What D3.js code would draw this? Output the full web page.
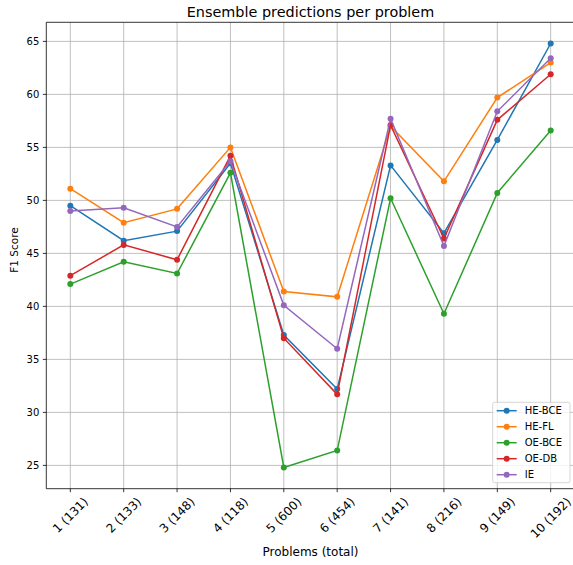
<!DOCTYPE html>
<html>
<head>
<meta charset="utf-8">
<script src="https://cdn.jsdelivr.net/npm/d3@7"></script>
<style>
  body { margin: 0; background: #fff; }
  text { font-family: "DejaVu Sans", sans-serif; fill: #000; }
</style>
</head>
<body>
<div id="chart"></div>
<script>
// problems and their totals
var problems = [1, 2, 3, 4, 5, 6, 7, 8, 9, 10];
var tickLabels = ["1 (131)", "2 (133)", "3 (148)", "4 (118)", "5 (600)",
                  "6 (454)", "7 (141)", "8 (216)", "9 (149)", "10 (192)"];

var heBce = [49.5, 46.2, 47.1, 53.5, 37.3, 32.2, 53.3, 46.9, 55.7, 64.8];
var heFl  = [51.1, 47.9, 49.2, 55.0, 41.4, 40.9, 57.0, 51.8, 59.7, 63.0];
var oeBce = [42.1, 44.2, 43.1, 52.6, 24.8, 26.4, 50.2, 39.3, 50.7, 56.6];
var oeDb  = [42.9, 45.8, 44.4, 54.2, 37.0, 31.7, 57.1, 46.4, 57.6, 61.9];
var ie    = [49.0, 49.3, 47.5, 53.7, 40.1, 36.0, 57.7, 45.7, 58.4, 63.4];

var seriesNames = ["HE-BCE", "HE-FL", "OE-BCE", "OE-DB", "IE"];
var seriesValues = [heBce, heFl, oeBce, oeDb, ie];
var yTicks = [25, 30, 35, 40, 45, 50, 55, 60, 65];

var width = 573, height = 565,
    margin = {top: 22.3, right: -1.7, bottom: 76.3, left: 46.3};

var color = d3.scaleOrdinal()
  .domain(seriesNames)
  .range(["#1f77b4", "#ff7f0e", "#2ca02c", "#d62728", "#9467bd"]);

var svg = d3.select("#chart").append("svg")
  .attr("width", width)
  .attr("height", height);

var x = d3.scaleLinear()
  .domain([0.55, 10.45])
  .range([margin.left, width - margin.right]);

var y = d3.scaleLinear()
  .domain([22.8, 66.8])
  .range([height - margin.bottom, margin.top]);

// grid
svg.append("g").selectAll("line.vg")
  .data(problems).enter().append("line")
  .attr("x1", d => x(d)).attr("x2", d => x(d))
  .attr("y1", y.range()[0]).attr("y2", y.range()[1])
  .style("stroke", "#b0b0b0").style("stroke-width", 0.8);

svg.append("g").selectAll("line.hg")
  .data(yTicks).enter().append("line")
  .attr("x1", x.range()[0]).attr("x2", x.range()[1])
  .attr("y1", d => y(d)).attr("y2", d => y(d))
  .style("stroke", "#b0b0b0").style("stroke-width", 0.8);

// series
var line = d3.line()
  .x((d, i) => x(problems[i]))
  .y(d => y(d));

seriesNames.forEach(function(name, k) {
  var g = svg.append("g");
  g.append("path")
    .datum(seriesValues[k])
    .attr("d", line)
    .style("fill", "none")
    .style("stroke", color(name))
    .style("stroke-width", 1.5);
  g.selectAll("circle")
    .data(seriesValues[k]).enter().append("circle")
    .attr("cx", (d, i) => x(problems[i]))
    .attr("cy", d => y(d))
    .attr("r", 3)
    .style("fill", color(name));
});

// spines
var x0 = x.range()[0], x1 = x.range()[1], y0 = y.range()[0], y1 = y.range()[1];
svg.append("path")
  .attr("d", "M" + x0 + "," + y1 + "V" + y0 + "H" + x1 + "V" + y1 + "Z")
  .style("fill", "none")
  .style("stroke", "#000")
  .style("stroke-width", 0.8);

// y axis ticks
var yAxis = svg.append("g");
yTicks.forEach(function(t) {
  yAxis.append("line")
    .attr("x1", x0 - 3.5).attr("x2", x0)
    .attr("y1", y(t)).attr("y2", y(t))
    .style("stroke", "#000").style("stroke-width", 0.8);
  yAxis.append("text")
    .attr("x", x0 - 7)
    .attr("y", y(t))
    .attr("dy", "0.35em")
    .attr("text-anchor", "end")
    .style("font-size", "10px")
    .text(t);
});

// x axis ticks, rotated labels centred under the tick
var xAxis = svg.append("g");
problems.forEach(function(p, i) {
  xAxis.append("line")
    .attr("x1", x(p)).attr("x2", x(p))
    .attr("y1", y0).attr("y2", y0 + 3.5)
    .style("stroke", "#000").style("stroke-width", 0.8);
  var t = xAxis.append("text")
    .attr("text-anchor", "middle")
    .attr("dy", "0.35em")
    .style("font-size", "12px")
    .text(tickLabels[i]);
  var w = t.node().getComputedTextLength(), h = 11;
  var cy = y0 + 7 + (w + h) * Math.SQRT1_2 / 2;
  t.attr("transform", "translate(" + x(p) + "," + cy + ") rotate(-45)");
});

// titles
svg.append("text")
  .attr("x", (x0 + x1) / 2)
  .attr("y", 17)
  .attr("text-anchor", "middle")
  .style("font-size", "14.4px")
  .text("Ensemble predictions per problem");

svg.append("text")
  .attr("x", (x0 + x1) / 2)
  .attr("y", 556)
  .attr("text-anchor", "middle")
  .style("font-size", "12px")
  .text("Problems (total)");

svg.append("text")
  .attr("transform", "translate(18,250) rotate(-90)")
  .attr("text-anchor", "middle")
  .style("font-size", "10.5px")
  .text("F1 Score");

// legend
var legend = svg.append("g").attr("transform", "translate(492.7,402.3)");
legend.append("rect")
  .attr("width", 77.3).attr("height", 80.4)
  .attr("rx", 2)
  .style("fill", "#fff").style("fill-opacity", 0.8)
  .style("stroke", "#cccccc").style("stroke-width", 0.8);

seriesNames.forEach(function(name, k) {
  var row = legend.append("g").attr("transform", "translate(0," + (8.4 + k * 16) + ")");
  row.append("line")
    .attr("x1", 4).attr("x2", 24)
    .style("stroke", color(name)).style("stroke-width", 1.5);
  row.append("circle")
    .attr("cx", 14).attr("r", 3)
    .style("fill", color(name));
  row.append("text")
    .attr("x", 32)
    .attr("dy", "0.35em")
    .style("font-size", "10px")
    .text(name);
});
</script>
</body>
</html>
